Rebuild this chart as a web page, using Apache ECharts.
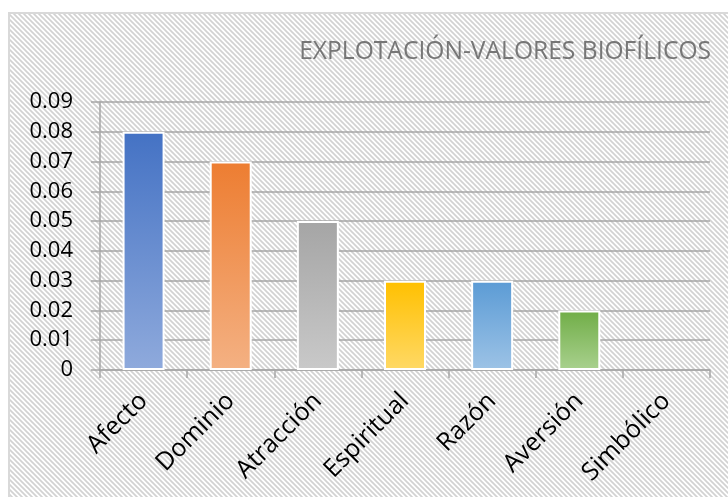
<!DOCTYPE html>
<html>
<head>
<meta charset="utf-8">
<style>
  body { margin: 0; background: #fff; }
  #main { width: 728px; height: 497px; }
</style>
</head>
<body>
<div id="main"></div>
<script src="https://cdn.jsdelivr.net/npm/echarts@6/dist/echarts.min.js"></script>
<script type="text/javascript">
    var categories = ['Afecto', 'Dominio', 'Atracción', 'Espiritual', 'Razón', 'Aversión', 'Simbólico'];
    var values = [0.08, 0.07, 0.05, 0.03, 0.03, 0.02, 0];
    var topColors = ['#4472C4', '#ED7D31', '#A5A5A5', '#FFC000', '#5B9BD5', '#70AD47', '#4472C4'];
    var bottomColors = ['#8FAADC', '#F4B183', '#C9C9C9', '#FFD966', '#9DC3E6', '#A9D18E', '#8FAADC'];
    var yTicks = [0, 0.01, 0.02, 0.03, 0.04, 0.05, 0.06, 0.07, 0.08, 0.09];

    // hatch pattern for the chart area
    var tile = document.createElement('canvas');
    tile.width = 5;
    tile.height = 5;
    var ctx = tile.getContext('2d');
    ctx.fillStyle = '#ffffff';
    ctx.fillRect(0, 0, 5, 5);
    ctx.strokeStyle = '#d2d2d2';
    ctx.lineWidth = 1.7;
    ctx.beginPath();
    ctx.moveTo(-5, -5); ctx.lineTo(10, 10);
    ctx.moveTo(-10, -5); ctx.lineTo(5, 10);
    ctx.moveTo(0, -5); ctx.lineTo(15, 10);
    ctx.stroke();

    var myChart = echarts.init(document.getElementById('main'));

    var barData = values.map(function (v, i) {
        return {
            value: v,
            itemStyle: {
                borderWidth: v === 0 ? 0 : 2,
                color: new echarts.graphic.LinearGradient(0, 0, 0, 1, [
                    { offset: 0, color: topColors[i] },
                    { offset: 1, color: bottomColors[i] }
                ])
            }
        };
    });

    var option = {
        animation: false,
        graphic: [{
            type: 'rect',
            z: -100,
            shape: { x: 9, y: 13, width: 740, height: 500 },
            style: {
                fill: { image: tile, repeat: 'repeat' },
                stroke: '#d9d9d9',
                lineWidth: 2
            }
        }],
        title: {
            text: 'EXPLOTACIÓN-VALORES BIOFÍLICOS',
            right: 12,
            top: 34,
            textStyle: {
                fontFamily: 'Open Sans',
                fontWeight: 'normal',
                fontSize: 24.6,
                color: '#767676'
            }
        },
        grid: {
            left: 100,
            right: 18,
            top: 102,
            bottom: 127
        },
        xAxis: {
            type: 'category',
            data: categories,
            axisLine: { lineStyle: { color: '#a6a6a6', width: 1.5 } },
            axisTick: { show: true, length: 8, lineStyle: { color: '#a6a6a6', width: 1.5 } },
            axisLabel: {
                rotate: 45,
                margin: 27,
                interval: 0,
                fontFamily: 'Open Sans',
                fontSize: 25,
                color: '#000'
            }
        },
        yAxis: {
            type: 'value',
            min: yTicks[0],
            max: yTicks[yTicks.length - 1],
            interval: 0.01,
            axisLine: { show: true, lineStyle: { color: '#a6a6a6', width: 1.5 } },
            axisTick: { show: true, length: 9, lineStyle: { color: '#a6a6a6', width: 1.5 } },
            splitLine: { lineStyle: { color: '#a6a6a6', width: 1.5 } },
            axisLabel: {
                margin: 27,
                fontFamily: 'Open Sans',
                fontSize: 22,
                color: '#000',
                formatter: function (v) {
                    return v === 0 ? '0' : v.toFixed(2);
                }
            }
        },
        series: [{
            type: 'bar',
            data: barData,
            barWidth: 42,
            itemStyle: {
                borderColor: '#ffffff',
                borderWidth: 2
            }
        }]
    };

    myChart.setOption(option);
</script>
</body>
</html>
